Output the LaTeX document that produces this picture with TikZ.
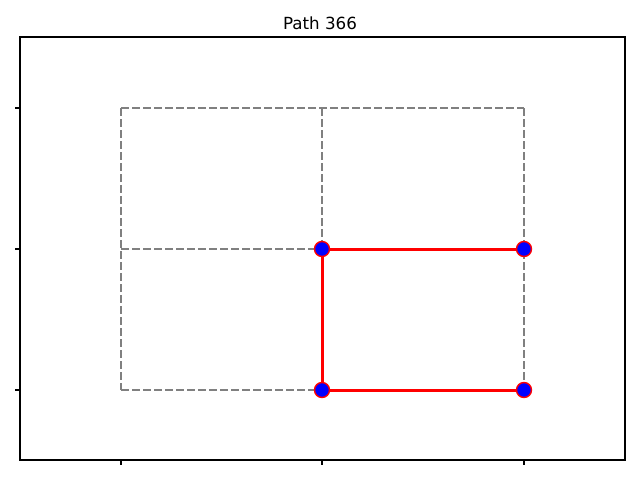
\documentclass[tikz,border=0pt]{standalone}
\usepackage{fontspec}
\setmainfont{DejaVu Sans}
\pgfdeclarelayer{background}
\pgfsetlayers{background,main}
\begin{document}
\begin{tikzpicture}[x=1pt,y=-1pt,
  gridline/.style={draw={rgb,255:red,128;green,128;blue,128},line width=2.1pt,dash pattern=on 7.7pt off 3.3pt},
  pathline/.style={draw=red,line width=3pt},
  dot/.style={circle,fill=blue,draw=red,line width=1.4pt,minimum size=15pt,inner sep=0pt},
  tick/.style={line width=1.1pt}]
\useasboundingbox (0,0) rectangle (640,480);
\node[font=\fontsize{16.7}{20}\selectfont] (title) at (320,23) {Path 366};
% nodes
\node[dot] (a) at (322,249) {};
\node[dot] (b) at (524,249) {};
\node[dot] (c) at (322,390) {};
\node[dot] (d) at (524,390) {};
\begin{pgfonlayer}{background}
% grid
\draw[gridline] (121,108) -- (524,108);
\draw[gridline] (121,249) -- (524,249);
\draw[gridline] (121,390) -- (524,390);
\draw[gridline] (121,108) -- (121,390);
\draw[gridline] (322,108) -- (322,390);
\draw[gridline] (524,108) -- (524,390);
\draw[pathline] (d.center) -- (c.center) -- (a.center) -- (b.center);
\end{pgfonlayer}
% frame
\draw[line width=1.1pt] (20,37) rectangle (625,460);
\foreach \x in {121,322,524} \draw[tick] (\x,460) -- (\x,465);
\foreach \y in {108,249,390} \draw[tick] (20,\y) -- (15,\y);
\end{tikzpicture}
\end{document}
